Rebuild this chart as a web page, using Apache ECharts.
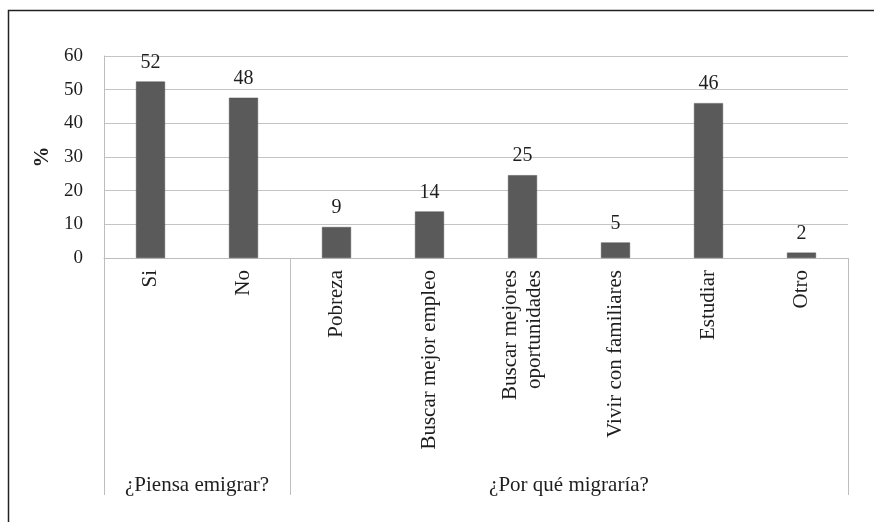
<!DOCTYPE html>
<html><head><meta charset="utf-8">
<script src="https://cdn.jsdelivr.net/npm/echarts@6/dist/echarts.min.js"></script>
<style>html,body{margin:0;padding:0;background:#fff}#c{width:874px;height:522px}</style>
</head><body><div id="c"></div>
<script>
const categories = ['Si', 'No', 'Pobreza', 'Buscar mejor empleo', 'Buscar mejores\noportunidades', 'Vivir con familiares', 'Estudiar', 'Otro'];
const values = [52.4, 47.6, 9.2, 13.8, 24.6, 4.6, 46.0, 1.6];
const groupNames = ['¿Piensa emigrar?', '¿Por qué migraría?'];
const groupStarts = [0, 2];
const groupEnds = [1, 7];
const yMin = 0, yMax = 60, yStep = 10;
const yName = '%';

const FONT = "'Liberation Serif', 'Times New Roman', serif";
const chart = echarts.init(document.getElementById('c'), null, {renderer: 'canvas'});
const option = {
  animation: false,
  backgroundColor: '#fff',
  grid: {left: 104, right: 26, top: 56, bottom: 264, containLabel: false, outerBoundsMode: 'none'},
  xAxis: {
    type: 'category',
    data: categories,
    boundaryGap: true,
    axisLine: {show: true, lineStyle: {color: '#bdbdbd', width: 1}},
    axisTick: {
      show: true, length: 237,
      interval: function (idx) { return groupStarts.indexOf(idx) >= 0; },
      lineStyle: {color: '#bdbdbd', width: 1}
    },
    axisLabel: {
      rotate: 90, margin: 12, interval: 0,
      fontFamily: FONT, fontSize: 21, color: '#1e1e1e', lineHeight: 24
    },
    splitLine: {show: false}
  },
  yAxis: {
    type: 'value', min: yMin, max: yMax, interval: yStep,
    name: yName, nameLocation: 'middle', nameGap: 50, nameRotate: 90,
    nameTextStyle: {fontFamily: FONT, fontSize: 21, fontWeight: 'bold', color: '#1e1e1e'},
    axisLine: {show: true, lineStyle: {color: '#bdbdbd', width: 1}},
    axisTick: {show: false},
    axisLabel: {margin: 21, fontFamily: FONT, fontSize: 19, color: '#1e1e1e'},
    splitLine: {show: true, lineStyle: {color: '#c4c4c4', width: 1.2}}
  },
  series: [{
    type: 'bar',
    data: values,
    barWidth: 29,
    itemStyle: {color: '#5a5a5a', borderColor: '#4d4d4d', borderWidth: 0.5},
    label: {
      show: true, position: 'top', distance: 9,
      fontFamily: FONT, fontSize: 20, color: '#1e1e1e',
      formatter: function (p) { return Math.round(p.value).toString(); }
    }
  }]
};
chart.setOption(option);

const y0 = chart.convertToPixel({yAxisIndex: 0}, 0);
const gfx = [{
  type: 'rect', silent: true,
  shape: {x: 8.5, y: 10.5, width: 1200, height: 1200},
  style: {fill: 'none', stroke: '#222', lineWidth: 1.5}
}];
groupNames.forEach(function (name, i) {
  const xa = chart.convertToPixel({xAxisIndex: 0}, groupStarts[i]);
  const xb = chart.convertToPixel({xAxisIndex: 0}, groupEnds[i]);
  gfx.push({
    type: 'text', silent: true,
    x: (xa + xb) / 2, y: y0 + 227,
    style: {text: name, font: '21px ' + FONT, fill: '#1e1e1e', align: 'center', verticalAlign: 'middle'}
  });
});
chart.setOption({graphic: gfx});
</script></body></html>
